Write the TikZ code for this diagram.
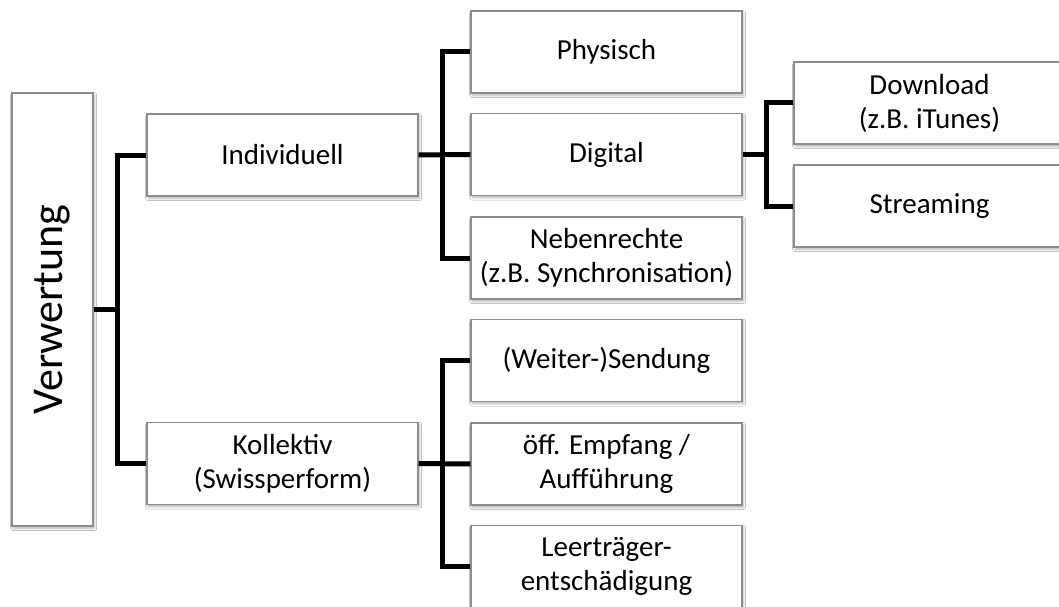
\documentclass[tikz,border=0pt]{standalone}
\usepackage{fontspec}
\setmainfont{Carlito}
\usetikzlibrary{shadows.blur}
\tikzset{
  box/.style={draw=black!45, line width=1.3pt, fill=white, rectangle,
    minimum width=271pt, minimum height=82pt, inner sep=0pt, align=center,
    font=\fontsize{29}{34}\selectfont,
    blur shadow={shadow xshift=1.2pt, shadow yshift=-2.2pt, shadow blur radius=2.5pt, shadow opacity=30}},
  conn/.style={line width=5pt, draw=black, line join=miter}
}
\begin{document}
\begin{tikzpicture}[x=1pt,y=-1pt]
\useasboundingbox (0,0) rectangle (1059,607);
\clip (0,0) rectangle (1059,607);
\fill[white] (0,0) rectangle (1059,607);
\node[box, minimum width=81pt, minimum height=433pt] (V) at (52.5,309.5)
  {\rotatebox{90}{\fontsize{44}{53}\selectfont Verwertung}};
\node[box] (Ind) at (282.5,155) {Individuell};
\node[box] (Kol) at (282.5,463.5) {Kollektiv\\(Swissperform)};
\node[box] (Phys) at (606.5,52) {Physisch};
\node[box] (Dig) at (606.5,154.5) {Digital};
\node[box] (Neb) at (606.5,258) {Nebenrechte\\(z.B. Synchronisation)};
\node[box] (Wei) at (606.5,360.5) {(Weiter-)Sendung};
\node[box] (Off) at (606.5,464) {öff. Empfang /\\Aufführung};
\node[box] (Lee) at (606.5,566.5) {Leerträger-\\entschädigung};
\node[box] (Down) at (929.5,103) {Download\\(z.B. iTunes)};
\node[box] (Str) at (929.5,206) {Streaming};
% connectors
\draw[conn] (V.east) -- ++(25,0);
\draw[conn] (Ind.west) -- ++(-29,0) |- (Kol.west);
\draw[conn] (Phys.west) -- ++(-28,0) |- (Neb.west);
\draw[conn] (Ind.east) -- (Dig.west);
\draw[conn] (Wei.west) -- ++(-28,0) |- (Lee.west);
\draw[conn] (Kol.east) -- (Off.west);
\draw[conn] (Down.west) -- ++(-27,0) |- (Str.west);
\draw[conn] (Dig.east) -- ++(25,0);
\end{tikzpicture}
\end{document}
